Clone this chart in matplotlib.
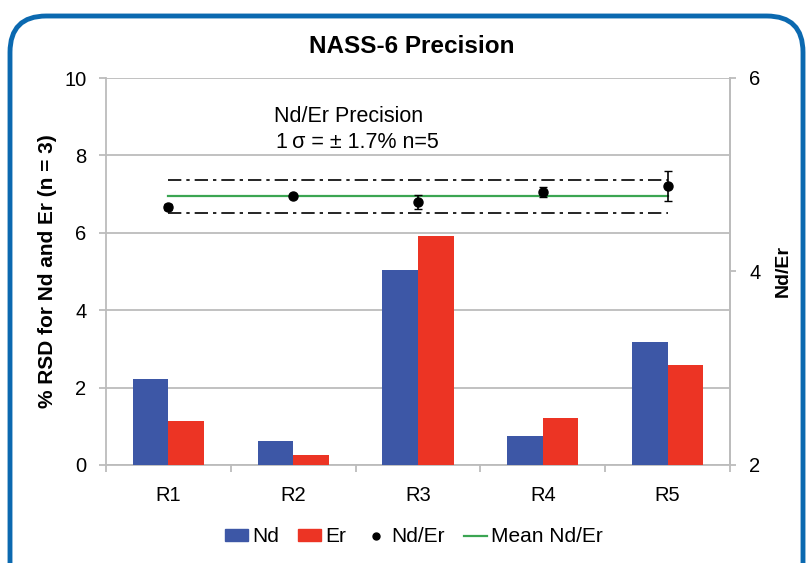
import matplotlib
matplotlib.use("Agg")
import matplotlib.pyplot as plt
from matplotlib.patches import FancyBboxPatch, Patch
from matplotlib.lines import Line2D
import numpy as np

plt.rcParams['font.family'] = ['Liberation Sans', 'DejaVu Sans']

categories = ["R1", "R2", "R3", "R4", "R5"]
nd_rsd = [2.23, 0.61, 5.05, 0.76, 3.17]
er_rsd = [1.14, 0.26, 5.93, 1.22, 2.58]
nd_er_ratio = [4.666, 4.783, 4.718, 4.821, 4.886]
nd_er_err = [0.03, 0.012, 0.076, 0.048, 0.155]
mean_ratio = 4.776
upper_limit = 4.948
lower_limit = 4.608

W, H = 806, 563
fig = plt.figure(figsize=(W/100, H/100), dpi=100)
ax = fig.add_axes([106/W, 1-465/H, (730-106)/W, (465-78)/H])

x = np.arange(len(categories))
bw = 0.286
blue = "#3d57a6"
red = "#ec3424"
green = "#3ba552"
grid_c = "#bcbcbc"

ax.bar(x - bw/2, nd_rsd, bw, color=blue, zorder=3)
ax.bar(x + bw/2, er_rsd, bw, color=red, zorder=3)
ax.set_xlim(-0.5, len(categories) - 0.5)
ax.set_ylim(0, 10)
ax.set_yticks([0, 2, 4, 6, 8, 10])
ax.yaxis.grid(True, color=grid_c, linewidth=1.3, zorder=0)
ax.set_xticks(x)
ax.set_xticklabels(categories)
ax.set_xticks(np.arange(-0.5, len(categories)), minor=True)
ax.tick_params(axis='x', which='major', length=0, pad=15, labelsize=14.5)
ax.tick_params(axis='x', which='minor', length=5, color=grid_c, width=1.3)
ax.tick_params(axis='y', length=5, color=grid_c, width=1.3, labelsize=14.5, pad=9)
ax.spines['top'].set_visible(False)
for s in ['left', 'bottom', 'right']:
    ax.spines[s].set_color(grid_c)
    ax.spines[s].set_linewidth(1.3)
ax.set_ylabel("% RSD for Nd and Er (n = 3)", fontsize=15, fontweight='bold', labelpad=5)

ax2 = ax.twinx()
ax2.set_ylim(2, 6)
ax2.set_yticks([2, 4, 6])
ax2.tick_params(axis='y', length=4, color=grid_c, width=1.3, labelsize=14.5, pad=10)
for s in ['top', 'left', 'bottom']:
    ax2.spines[s].set_visible(False)
ax2.spines['right'].set_color(grid_c)
ax2.spines['right'].set_linewidth(1.3)
ax2.set_ylabel("Nd/Er", fontsize=14, fontweight='bold', labelpad=10)

ax2.plot([x[0], x[-1]], [upper_limit, upper_limit], color='black', linewidth=1.2,
         dashes=[8, 3, 2, 3])
ax2.plot([x[0], x[-1]], [lower_limit, lower_limit], color='black', linewidth=1.2,
         dashes=[8, 3, 2, 3])
ax2.plot([x[0], x[-1]], [mean_ratio, mean_ratio], color=green, linewidth=1.6)
ax2.errorbar(x, nd_er_ratio, yerr=nd_er_err, fmt='o', color='black', markersize=6.5,
             ecolor='black', elinewidth=1.2, capsize=3, zorder=5)

fig.text(349/W, 1-122/H, "Nd/Er Precision", ha='center', va='baseline', fontsize=15.5)
fig.text(357/W, 1-148/H, "1\u2009\u03c3 = \u00b1 1.7% n=5", ha='center', va='baseline',
         fontsize=15.5)

fig.text(412/W, 1-53/H, "NASS-6 Precision", ha='center', va='baseline', fontsize=17.5,
         fontweight='bold')

handles = [Patch(color=blue), Patch(color=red),
           Line2D([], [], marker='o', color='black', linestyle='none', markersize=5),
           Line2D([], [], color=green, linewidth=1.6)]
labels = ["Nd", "Er", "Nd/Er", "Mean Nd/Er"]
fig.legend(handles, labels, loc='center', bbox_to_anchor=(414/W, 1-537/H), ncol=4,
           frameon=False, fontsize=15, handlelength=1.1, handleheight=0.5,
           handletextpad=0.2, columnspacing=0.9)

border = FancyBboxPatch((10/W, 1-620/H), (803-10)/W, (620-16)/H,
                        boxstyle="round,pad=0,rounding_size=0.045",
                        transform=fig.transFigure, fill=False, edgecolor="#0b69b0",
                        linewidth=3.5, mutation_aspect=W/H)
fig.patches.append(border)

fig.savefig("out.png", dpi=100)
